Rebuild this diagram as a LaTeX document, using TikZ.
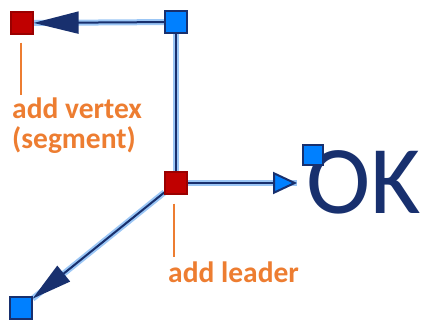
\documentclass[tikz,border=0pt]{standalone}
\usepackage{fontspec}
\setmainfont{Carlito}
\usetikzlibrary{arrows.meta,backgrounds}
\definecolor{navy}{RGB}{24,48,110}
\definecolor{halo}{RGB}{155,198,245}
\definecolor{gripblue}{RGB}{0,128,255}
\definecolor{gripred}{RGB}{192,0,0}
\definecolor{noteorange}{RGB}{237,125,49}
\tikzset{
  grip/.style={draw=navy, line width=1.2pt, minimum size=22pt, inner sep=0pt},
  bluegrip/.style={grip, fill=gripblue},
  redgrip/.style={grip, fill=gripred, draw=gripred!80!black},
  glow/.style={halo, line width=6pt},
  wire/.style={navy, line width=2pt},
  leader/.style={noteorange, line width=1.5pt},
  note/.style={text=noteorange, font=\bfseries\fontsize{29.5}{30}\selectfont, align=left, inner sep=0pt},
}
\begin{document}
\begin{tikzpicture}[x=1pt, y=-1pt]
\useasboundingbox (0,0) rectangle (422,320);
% text behind the grip
\node[anchor=base west, inner sep=0pt, text=navy, font=\fontsize{97}{97}\selectfont] (okText) at (306,213) {OK};
% grips
\node[redgrip] (vtxL) at (22,23) {};
\node[bluegrip] (vtxR) at (176,22) {};
\node[redgrip] (ldr) at (176,183) {};
\node[bluegrip] (endB) at (21,308) {};
\node[bluegrip, minimum size=20pt] (okGrip) at (313,155) {};
\coordinate (okTip) at (297,183);

\begin{scope}[on background layer]
  \draw[glow] (vtxR) -- (vtxL);
  \draw[glow] (vtxR) -- (ldr);
  \draw[glow] (ldr) -- (okTip);
  \draw[glow] (ldr) -- (endB);
  \draw[wire, -{Triangle[length=45pt, width=22pt]}] (vtxR) -- (vtxL);
  \draw[wire] (vtxR) -- (ldr);
  \draw[wire, -{Triangle[length=24pt, width=22pt, fill=gripblue]}] (ldr) -- (okTip);
  \draw[wire, -{Triangle[length=40pt, width=20pt]}] (ldr) -- (endB);
\end{scope}

% notes
\node[note, anchor=north west] (vtxNote) at (12,98) {add vertex\\(segment)};
\node[note, anchor=base west] (ldrNote) at (168,282) {add leader};
\draw[leader] ([yshift=-8pt]vtxL.south -| 21,0) -- ++(0,52);
\draw[leader] ([yshift=-9pt]ldr.south -| 174,0) -- ++(0,53);

\end{tikzpicture}
\end{document}
